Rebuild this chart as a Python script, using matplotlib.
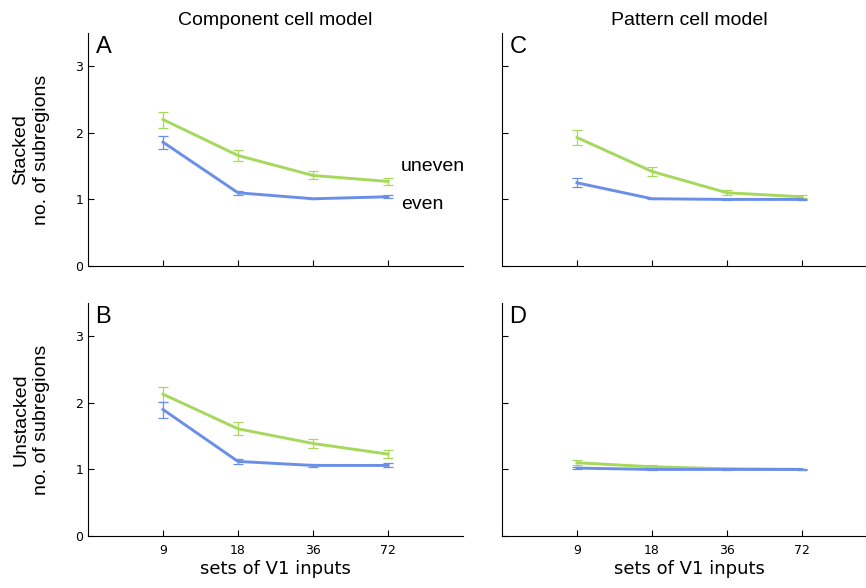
import numpy as np
import matplotlib
matplotlib.use("Agg")
import matplotlib.pyplot as plt

# x categories
sets = ['9', '18', '36', '72']
xpos = np.arange(1, len(sets) + 1)

# panel A: component cell model, stacked
A_uneven = [2.20, 1.66, 1.36, 1.27]
A_uneven_err = [0.12, 0.08, 0.06, 0.05]
A_even = [1.86, 1.10, 1.01, 1.04]
A_even_err = [0.10, 0.03, 0.01, 0.02]

# panel B: component cell model, unstacked
B_uneven = [2.13, 1.61, 1.39, 1.23]
B_uneven_err = [0.11, 0.10, 0.07, 0.06]
B_even = [1.90, 1.12, 1.06, 1.06]
B_even_err = [0.12, 0.04, 0.02, 0.03]

# panel C: pattern cell model, stacked
C_uneven = [1.93, 1.42, 1.10, 1.04]
C_uneven_err = [0.11, 0.07, 0.04, 0.02]
C_even = [1.25, 1.01, 1.00, 1.00]
C_even_err = [0.07, 0.01, 0.01, 0.01]

# panel D: pattern cell model, unstacked
D_uneven = [1.10, 1.04, 1.01, 1.00]
D_uneven_err = [0.04, 0.02, 0.01, 0.01]
D_even = [1.02, 1.00, 1.00, 1.00]
D_even_err = [0.01, 0.01, 0.01, 0.01]

green = '#a6d95b'
blue = '#6b8ee8'
helv = 'Liberation Sans'

fig = plt.figure(figsize=(8.66, 5.88), dpi=100)

# axes positions in figure fractions
L1, L2 = 88 / 866, 502 / 866
W = 375 / 866
B_top, B_bot = 322 / 588, 52 / 588
H = 233 / 588

panels = [
    ('A', [L1, B_top, W, H], A_uneven, A_uneven_err, A_even, A_even_err),
    ('B', [L1, B_bot, W, H], B_uneven, B_uneven_err, B_even, B_even_err),
    ('C', [L2, B_top, W, H], C_uneven, C_uneven_err, C_even, C_even_err),
    ('D', [L2, B_bot, W, H], D_uneven, D_uneven_err, D_even, D_even_err),
]

axes = {}
for letter, pos, un, un_e, ev, ev_e in panels:
    ax = fig.add_axes(pos)
    axes[letter] = ax
    ax.plot(xpos, un, color=green, lw=2.1, zorder=3)
    ax.errorbar(xpos, un, yerr=un_e, fmt='none', ecolor=green, elinewidth=0.9,
                capsize=3.5, capthick=0.9, zorder=2)
    ax.plot(xpos, ev, color=blue, lw=2.1, zorder=3)
    ax.errorbar(xpos, ev, yerr=ev_e, fmt='none', ecolor=blue, elinewidth=0.9,
                capsize=3.5, capthick=0.9, zorder=2)
    ax.set_xlim(0, 5)
    ax.set_ylim(0, 3.5)
    ax.set_yticks([0, 1, 2, 3])
    ax.set_xticks(xpos)
    ax.spines['top'].set_visible(False)
    ax.spines['right'].set_visible(False)
    ax.tick_params(direction='in', length=4, width=0.8, labelsize=9)
    ax.tick_params(axis='x', pad=6)
    ax.text(0.02, 0.985, letter, transform=ax.transAxes, fontsize=17,
            va='top', ha='left', family=helv)
    if letter in ('A', 'C'):
        ax.set_xticklabels([])
    else:
        ax.set_xticklabels(sets)
        ax.set_xlabel('sets of V1 inputs', fontsize=13, labelpad=2)
    if letter in ('C', 'D'):
        ax.set_yticklabels([])

axes['A'].set_title('Component cell model', fontsize=14, pad=6, family=helv)
axes['C'].set_title('Pattern cell model', fontsize=14, pad=6, family=helv)
axes['A'].set_ylabel('Stacked\nno. of subregions', fontsize=14,
                     labelpad=18, family=helv, linespacing=1.3)
axes['B'].set_ylabel('Unstacked\nno. of subregions', fontsize=14,
                     labelpad=18, family=helv, linespacing=1.3)

axes['A'].text(4.17, 1.5, 'uneven', fontsize=14, va='center', ha='left',
               family=helv)
axes['A'].text(4.17, 0.93, 'even', fontsize=14, va='center', ha='left',
               family=helv)

fig.savefig('out.png', dpi=100)
